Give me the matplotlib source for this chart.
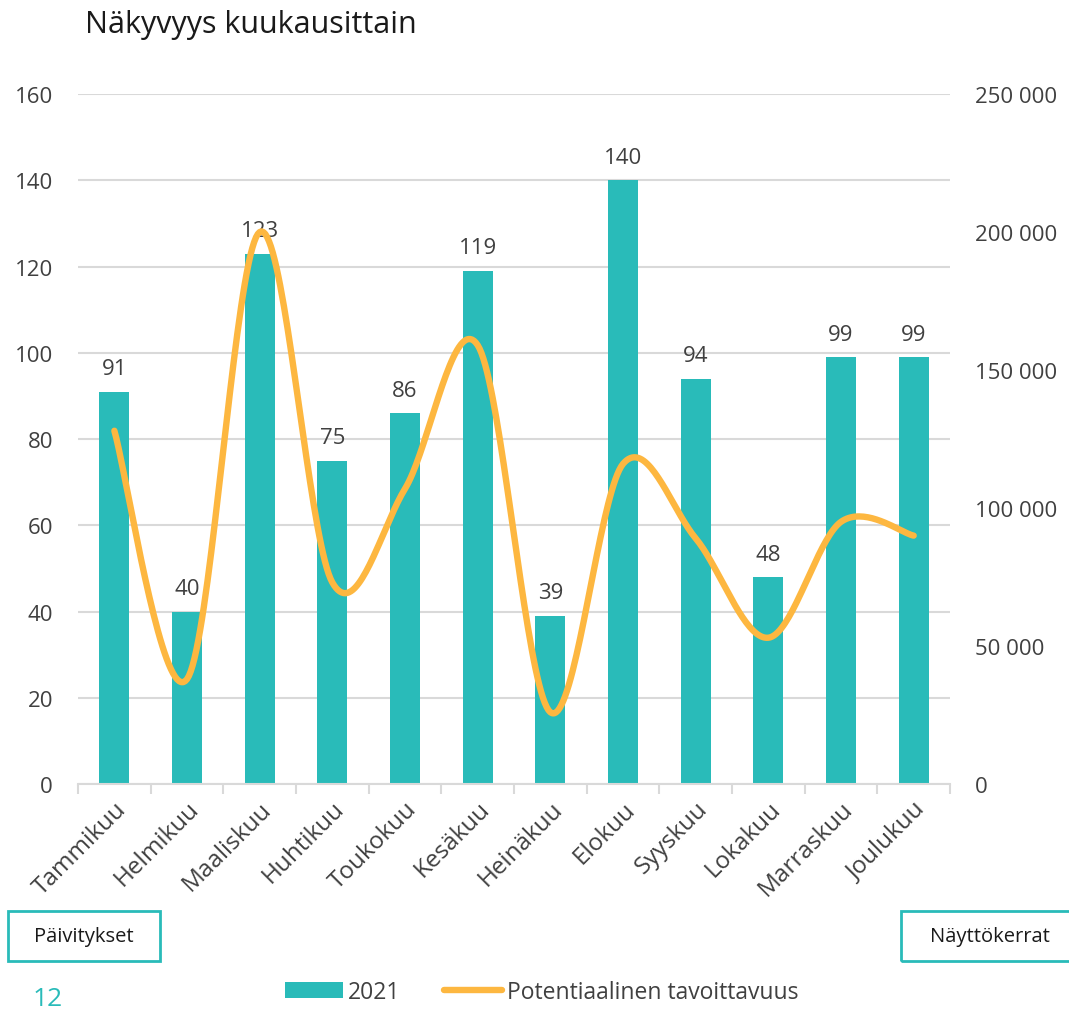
import numpy as np
import matplotlib.pyplot as plt
from matplotlib.patches import Rectangle, Patch
from matplotlib.lines import Line2D
from matplotlib.ticker import FuncFormatter, MultipleLocator

plt.rcParams['font.family'] = ['Open Sans', 'DejaVu Sans']

# Data
months = ["Tammikuu", "Helmikuu", "Maaliskuu", "Huhtikuu", "Toukokuu", "Kesäkuu",
          "Heinäkuu", "Elokuu", "Syyskuu", "Lokakuu", "Marraskuu", "Joulukuu"]
updates_2021 = [91, 40, 123, 75, 86, 119, 39, 140, 94, 48, 99, 99]
reach = [128000, 38000, 200000, 73000, 107000, 159000,
         26000, 116000, 89000, 53000, 95000, 90000]

teal = "#29BBB9"
orange = "#FDB740"
txt = "#404040"
grid = "#D9D9D9"


def smooth(xs, ys, n=40):
    # Excel-style smoothed line (Catmull-Rom through the points)
    xs = np.asarray(xs, float)
    ys = np.asarray(ys, float)
    px = np.concatenate([[xs[0]], xs, [xs[-1]]])
    py = np.concatenate([[ys[0]], ys, [ys[-1]]])
    out_x, out_y = [], []
    t = np.linspace(0, 1, n)
    for i in range(1, len(px) - 2):
        p0 = np.array([px[i], py[i]])
        p3 = np.array([px[i + 1], py[i + 1]])
        c1 = p0 + (np.array([px[i + 1], py[i + 1]]) - np.array([px[i - 1], py[i - 1]])) / 6
        c2 = p3 - (np.array([px[i + 2], py[i + 2]]) - np.array([px[i], py[i]])) / 6
        b = ((1 - t) ** 3)[:, None] * p0 + (3 * (1 - t) ** 2 * t)[:, None] * c1 \
            + (3 * (1 - t) * t ** 2)[:, None] * c2 + (t ** 3)[:, None] * p3
        out_x.extend(b[:, 0])
        out_y.extend(b[:, 1])
    return np.array(out_x), np.array(out_y)


fig = plt.figure(figsize=(10.69, 10.12), dpi=100)
ax = fig.add_axes([0.073, 0.2243, 0.8157, 0.6818])
ax2 = ax.twinx()

x = np.arange(len(months))
bars = ax.bar(x, updates_2021, width=0.41, color=teal, zorder=2)
for xi, v in zip(x, updates_2021):
    ax.annotate(str(v), (xi, v), xytext=(0, 9), textcoords="offset points",
                ha="center", va="bottom", fontsize=16, color=txt, zorder=1)

ax.set_ylim(0, 160)
ax.set_xlim(-0.5, len(months) - 0.5)
ax.yaxis.set_major_locator(MultipleLocator(20))
ax.grid(axis="y", color=grid, linewidth=1.5, zorder=0)
ax.set_axisbelow(True)
for s in ["top", "left", "right"]:
    ax.spines[s].set_visible(False)
ax.spines["bottom"].set_color(grid)
ax.spines["bottom"].set_linewidth(1.5)
ax.tick_params(axis="y", length=0, pad=18, labelsize=16, labelcolor=txt)
ax.set_xticks(x)
ax.set_xticklabels(months, rotation=45, ha="right", rotation_mode="anchor",
                   fontsize=17.5, color=txt)
ax.tick_params(axis="x", which="major", length=0, pad=9)
ax.set_xticks(np.arange(-0.5, len(months)), minor=True)
ax.tick_params(axis="x", which="minor", length=7, width=1.5, color=grid)

sx, sy = smooth(x, reach)
ax2.plot(sx, sy, color=orange, linewidth=4.6, solid_capstyle="round", zorder=3)
ax2.set_ylim(0, 250000)
ax2.yaxis.set_major_locator(MultipleLocator(50000))
ax2.yaxis.set_major_formatter(FuncFormatter(lambda v, p: f"{v:,.0f}".replace(",", " ")))
for s in ["top", "left", "right", "bottom"]:
    ax2.spines[s].set_visible(False)
ax2.tick_params(axis="y", length=0, pad=18, labelsize=16, labelcolor=txt)

fig.text(0.0795, 0.975, "Näkyvyys kuukausittain", fontsize=22, color="#1a1a1a",
         ha="left", va="center")

# axis name boxes
fig.patches.append(Rectangle((8 / 1069, 1 - 962 / 1012), 152 / 1069, 50 / 1012,
                             transform=fig.transFigure, fill=False,
                             edgecolor=teal, linewidth=2))
fig.text(84 / 1069, 1 - 937 / 1012, "Päivitykset", fontsize=14.5, color="#1a1a1a",
         ha="center", va="center")
fig.patches.append(Rectangle((901 / 1069, 1 - 962 / 1012), 175 / 1069, 50 / 1012,
                             transform=fig.transFigure, fill=False,
                             edgecolor=teal, linewidth=2))
fig.text(990 / 1069, 1 - 937 / 1012, "Näyttökerrat", fontsize=14.5, color="#1a1a1a",
         ha="center", va="center")

fig.text(48 / 1069, 1 - 1000 / 1012, "12", fontsize=19, color=teal,
         ha="center", va="center")

handles = [Patch(facecolor=teal, edgecolor="none"),
           Line2D([0], [0], color=orange, linewidth=4.6, solid_capstyle="round")]
fig.legend(handles, ["2021", "Potentiaalinen tavoittavuus"], loc="center",
           bbox_to_anchor=(542 / 1069, 1 - 993 / 1012), ncol=2, frameon=False,
           fontsize=16.5, handlelength=2.5, handleheight=0.7, handletextpad=0.25,
           columnspacing=1.9, labelcolor=txt)

fig.savefig("out.png", dpi=100)
